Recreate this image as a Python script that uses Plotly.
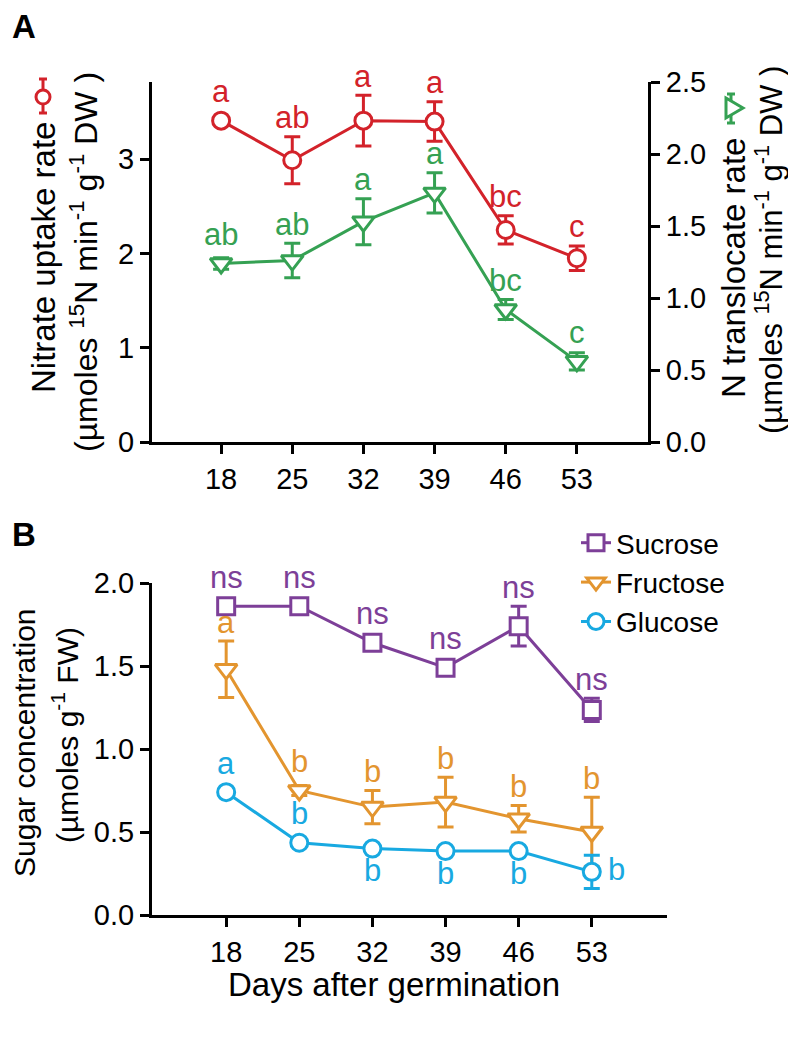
import plotly.graph_objects as go

# page body has an 8px margin, so the figure is sized to fit the window
OX, OY = 8, 8
W, H = 796 - 2 * OX, 1062 - 2 * OY
FONT = "Liberation Sans, Arial, sans-serif"

red = "#d3222a"
green = "#35a153"
purple = "#7d3f98"
orange = "#e3952f"
cyan = "#18a9e1"

days = [18, 25, 32, 39, 46, 53]

# panel A
nitrate = [3.41, 2.99, 3.41, 3.40, 2.25, 1.95]
nitrate_err = [0.04, 0.25, 0.27, 0.21, 0.15, 0.13]
nitrate_lbl = ["a", "ab", "a", "a", "bc", "c"]
transloc = [1.24, 1.26, 1.53, 1.73, 0.92, 0.56]
transloc_err = [0.04, 0.12, 0.16, 0.14, 0.07, 0.06]
transloc_lbl = ["ab", "ab", "a", "a", "bc", "c"]

# panel B
sucrose = [1.86, 1.86, 1.64, 1.49, 1.74, 1.235]
sucrose_err = [0.03, 0.03, 0.03, 0.03, 0.12, 0.07]
sucrose_lbl = ["ns", "ns", "ns", "ns", "ns", "ns"]
fructose = [1.48, 0.75, 0.65, 0.68, 0.58, 0.50]
fructose_err = [0.17, 0.03, 0.10, 0.15, 0.08, 0.21]
fructose_lbl = ["a", "b", "b", "b", "b", "b"]
glucose = [0.74, 0.435, 0.40, 0.385, 0.385, 0.26]
glucose_err = [0.02, 0.02, 0.02, 0.02, 0.02, 0.10]
glucose_lbl = ["a", "b", "b", "b", "b", "b"]
glucose_lbl_pos = ["top", "top", "bottom", "bottom", "bottom", "right"]


def fx(x):
    return (x - OX) / W


def fy(y):
    return 1 - (y - OY) / H


def series(x, y, err, color, symbol, size, name, xa, ya, legend):
    return go.Scatter(
        x=x, y=y, name=name, mode="lines+markers",
        xaxis=xa, yaxis=ya, showlegend=legend, cliponaxis=False,
        line=dict(color=color, width=3),
        marker=dict(symbol=symbol, size=size, color="white",
                    line=dict(color=color, width=3)),
        error_y=dict(type="data", array=err, color=color,
                     thickness=3, width=8),
    )


fig = go.Figure()
fig.add_trace(series(days, nitrate, nitrate_err, red, "circle", 17,
                     "Nitrate", "x", "y", False))
fig.add_trace(series(days, transloc, transloc_err, green, "triangle-down", 19,
                     "N translocate", "x", "y2", False))
fig.add_trace(series(days, sucrose, sucrose_err, purple, "square", 17,
                     "Sucrose", "x2", "y3", True))
fig.add_trace(series(days, fructose, fructose_err, orange, "triangle-down", 19,
                     "Fructose", "x2", "y3", True))
fig.add_trace(series(days, glucose, glucose_err, cyan, "circle", 17,
                     "Glucose", "x2", "y3", True))

# plot areas, window pixels
A_left, A_right, A_top, A_bot = 152, 648, 82, 442
B_left, B_right, B_top, B_bot = 152, 667, 583, 915
yA_range = [0, 3.82]
y2A_range = [0, 2.5]
yB_range = [0, 2.0]

annots = []


def add_labels(xs, ys, errs, labels, color, xref, yref, ppu, pos=None):
    for i, (x, y, e, t) in enumerate(zip(xs, ys, errs, labels)):
        p = pos[i] if pos else "top"
        off = max(e * ppu, 10)
        a = dict(x=x, y=y, xref=xref, yref=yref, text=t, showarrow=False,
                 font=dict(size=31, color=color, family=FONT),
                 xanchor="center", yanchor="middle")
        if p == "top":
            a["yshift"] = off + 19
        elif p == "bottom":
            a["yshift"] = -(off + 12)
        else:
            a["xshift"] = 25
            a["yshift"] = 2
        annots.append(a)


ppuA = (A_bot - A_top) / (yA_range[1] - yA_range[0])
ppuA2 = (A_bot - A_top) / (y2A_range[1] - y2A_range[0])
ppuB = (B_bot - B_top) / (yB_range[1] - yB_range[0])
add_labels(days, nitrate, nitrate_err, nitrate_lbl, red, "x", "y", ppuA)
add_labels(days, transloc, transloc_err, transloc_lbl, green, "x", "y2", ppuA2)
add_labels(days, sucrose, sucrose_err, sucrose_lbl, purple, "x2", "y3", ppuB)
add_labels(days, fructose, fructose_err, fructose_lbl, orange, "x2", "y3", ppuB)
add_labels(days, glucose, glucose_err, glucose_lbl, cyan, "x2", "y3", ppuB,
           glucose_lbl_pos)


def text(xp, yp, t, size, angle=0, bold=False, color="black"):
    annots.append(dict(
        x=fx(xp), y=fy(yp), xref="paper", yref="paper",
        text=f"<b>{t}</b>" if bold else t,
        showarrow=False, textangle=angle, xanchor="center", yanchor="middle",
        font=dict(size=size, color=color, family=FONT)))


unit = "(µmoles <sup>15</sup>N min<sup>-1</sup> g<sup>-1</sup> DW )"
text(24, 27, "A", 33, bold=True)
text(24, 534, "B", 33, bold=True)
text(43, 258, "Nitrate uptake rate", 33, angle=-90)
text(84, 262, unit, 32, angle=-90)
text(733, 268, "N translocate rate", 33, angle=-90)
text(769, 250, unit, 31, angle=-90)
text(24, 743, "Sugar concentration", 30, angle=-90)
text(65, 735, "(µmoles g<sup>-1</sup> FW)", 30, angle=-90)
text(394, 984, "Days after germination", 33)

# legend-like glyphs next to the rotated axis titles
shapes = []


def seg(x0, y0, x1, y1, color):
    shapes.append(dict(type="line", xref="paper", yref="paper",
                       x0=fx(x0), y0=fy(y0), x1=fx(x1), y1=fy(y1),
                       line=dict(color=color, width=3)))


seg(43, 78, 43, 114, red)
seg(39, 79, 47, 79, red)
seg(39, 113, 47, 113, red)
shapes.append(dict(type="circle", xref="paper", yref="paper",
                   x0=fx(36), y0=fy(104), x1=fx(50), y1=fy(90),
                   fillcolor="white", line=dict(color=red, width=3)))

seg(731, 93, 731, 124, green)
seg(727, 94, 735, 94, green)
seg(727, 123, 735, 123, green)
shapes.append(dict(type="path", xref="paper", yref="paper",
                   path=(f"M {fx(726)},{fy(98)} L {fx(743)},{fy(108)} "
                         f"L {fx(726)},{fy(118)} Z"),
                   fillcolor="white", line=dict(color=green, width=3)))

axis_style = dict(showline=True, linecolor="black", linewidth=3,
                  ticks="outside", ticklen=9, tickwidth=3, tickcolor="black",
                  showgrid=False, zeroline=False, automargin=False,
                  tickfont=dict(size=29, color="black", family=FONT))

fig.update_layout(
    width=W, height=H, autosize=False,
    margin=dict(l=0, r=0, t=0, b=0, pad=0, autoexpand=False),
    paper_bgcolor="white", plot_bgcolor="white",
    font=dict(family=FONT, color="black"),
    xaxis=dict(axis_style, domain=[fx(A_left), fx(A_right)], range=[11.2, 60],
               tickvals=days, anchor="y"),
    yaxis=dict(axis_style, domain=[fy(A_bot), fy(A_top)], range=yA_range,
               tickvals=[0, 1, 2, 3], anchor="x"),
    yaxis2=dict(axis_style, overlaying="y", side="right", anchor="x",
                range=y2A_range, tickvals=[0, 0.5, 1, 1.5, 2, 2.5],
                tickformat=".1f"),
    xaxis2=dict(axis_style, domain=[fx(B_left), fx(B_right)], range=[10.9, 60.2],
                tickvals=days, anchor="y3"),
    yaxis3=dict(axis_style, domain=[fy(B_bot), fy(B_top)], range=yB_range,
                tickvals=[0, 0.5, 1, 1.5, 2], tickformat=".1f", anchor="x2"),
    legend=dict(x=fx(576), y=fy(518), xanchor="left", yanchor="top",
                bgcolor="rgba(0,0,0,0)", font=dict(size=28, color="black"),
                itemwidth=30),
    annotations=annots,
    shapes=shapes,
)

fig.write_html("out.html")
